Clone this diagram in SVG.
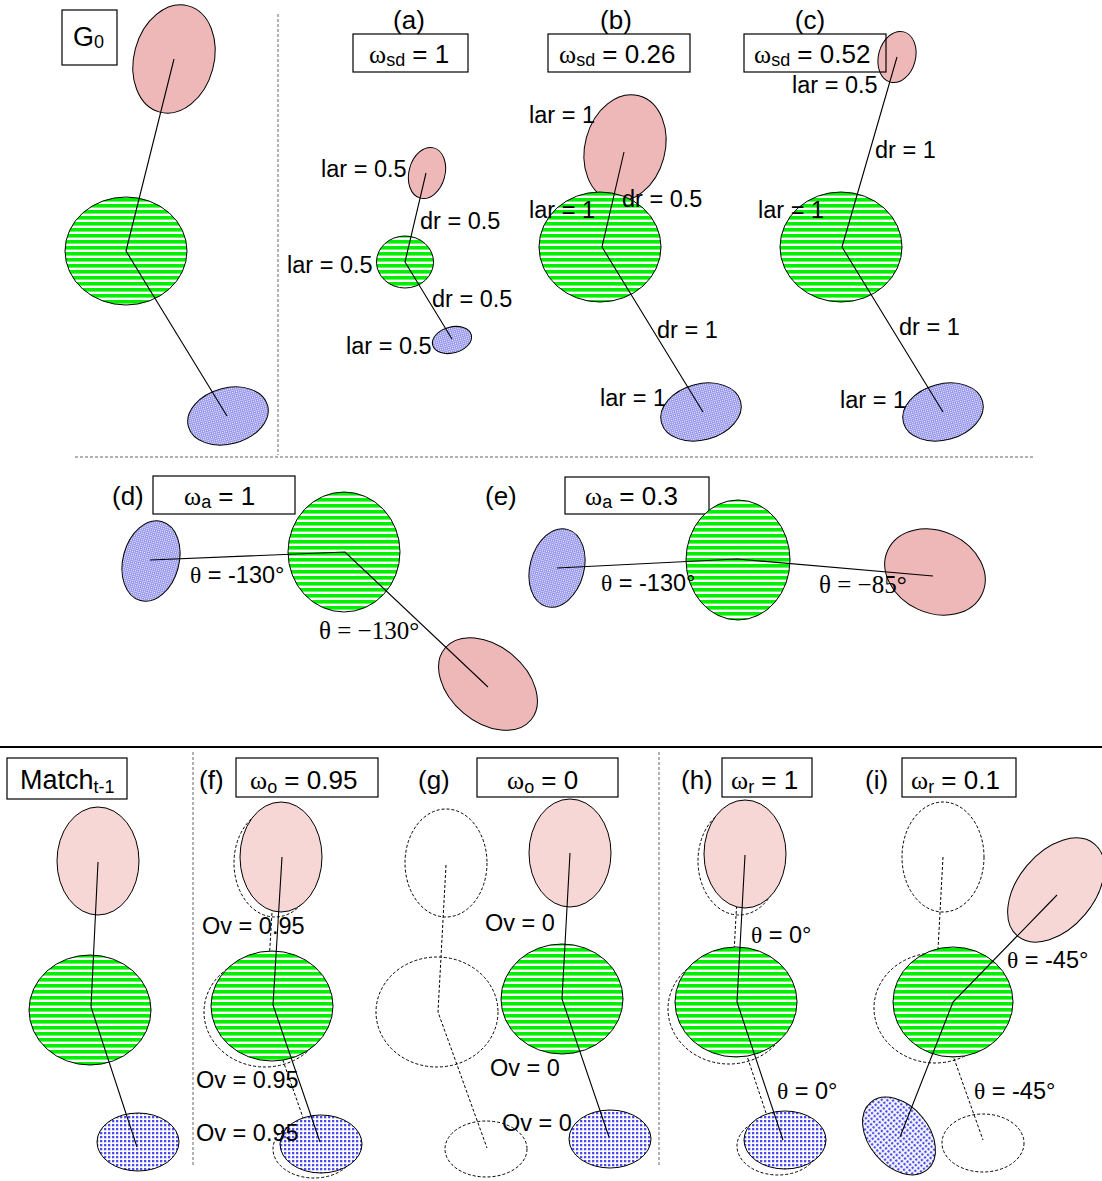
<svg xmlns="http://www.w3.org/2000/svg" width="1102" height="1181" viewBox="0 0 1102 1181">
<defs>
<pattern id="stripes" patternUnits="userSpaceOnUse" width="8" height="6">
<rect width="8" height="6" fill="#ffffff"/>
<rect y="0" width="8" height="3.6" fill="#00f000"/>
</pattern>
<pattern id="dots" patternUnits="userSpaceOnUse" width="2" height="2">
<rect width="2" height="2" fill="#9494ee"/>
<rect width="1" height="1" fill="#ffffff"/>
</pattern>
<pattern id="checks" patternUnits="userSpaceOnUse" width="4" height="4">
<rect width="4" height="4" fill="#4c4cf0"/>
<rect x="2.3" width="1.7" height="4" fill="#ffffff"/>
<rect y="2.3" width="4" height="1.7" fill="#ffffff"/>
</pattern>
</defs>
<style>
text{font-family:"Liberation Sans",Arial,sans-serif;font-size:23.5px;fill:#000}
.ser{font-family:"Liberation Serif","Times New Roman",serif}
.box{fill:none;stroke:#000;stroke-width:1.2}
.pk{fill:#efb8b8;stroke:#000;stroke-width:1}
.pkl{fill:#f7d6d6;stroke:#000;stroke-width:1}
.gr{fill:url(#stripes);stroke:#000;stroke-width:1}
.bl{fill:url(#dots);stroke:#000;stroke-width:1}
.blc{fill:url(#checks);stroke:#000;stroke-width:1}
.dsh{fill:none;stroke:#000;stroke-width:1;stroke-dasharray:3,2}
.ln{fill:none;stroke:#000;stroke-width:1.1}
.dln{fill:none;stroke:#000;stroke-width:1;stroke-dasharray:3,2}
.div{stroke:#666;stroke-width:1;stroke-dasharray:3,2}
.hd{font-size:26px}
.bx{font-size:27px}
.sub{font-size:18px}
.tms{font-size:25px}
</style>

<!-- dividers -->
<g id="dividers">
<line class="div" x1="278" y1="14" x2="278" y2="455"/>
<line class="div" x1="75" y1="457" x2="1035" y2="457"/>
<line x1="0" y1="747" x2="1102" y2="747" stroke="#000" stroke-width="2"/>
<line class="div" x1="193" y1="752" x2="193" y2="1165"/>
<line class="div" x1="659" y1="752" x2="659" y2="1165"/>
</g>

<!-- G0 -->
<g id="g0">
<rect class="box" x="62" y="10" width="55" height="55"/>
<text class="bx" x="73" y="46">G<tspan class="sub" dy="2">0</tspan></text>
<ellipse id="g0-pink" class="pk" cx="174" cy="59" rx="40" ry="55" transform="rotate(15 174 59)"/>
<ellipse id="g0-green" class="gr" cx="126" cy="251" rx="61" ry="54"/>
<ellipse id="g0-blue" class="bl" cx="228" cy="416" rx="41" ry="28" transform="rotate(-15 228 416)"/>
</g>

<!-- (a) -->
<g id="panel-a">
<text class="hd" x="409" y="29" text-anchor="middle">(a)</text>
<rect class="box" x="353" y="34" width="115" height="38"/>
<text x="369" y="63"><tspan class="ser hd">ω</tspan><tspan class="sub" dy="3">sd</tspan><tspan class="hd" dy="-3"> = 1</tspan></text>
<ellipse id="a-pink" class="pk" cx="427" cy="173" rx="18" ry="26" transform="rotate(15 427 173)"/>
<ellipse id="a-green" class="gr" cx="405" cy="262" rx="28.5" ry="26"/>
<ellipse id="a-blue" class="bl" cx="452" cy="340" rx="20" ry="13" transform="rotate(-15 452 340)"/>
</g>

<!-- (b) -->
<g id="panel-b">
<text class="hd" x="616" y="29" text-anchor="middle">(b)</text>
<rect class="box" x="548" y="34" width="142" height="38"/>
<text x="559" y="63"><tspan class="ser hd">ω</tspan><tspan class="sub" dy="3">sd</tspan><tspan class="hd" dy="-3"> = 0.26</tspan></text>
<ellipse id="b-pink" class="pk" cx="625" cy="148" rx="40" ry="54" transform="rotate(15 625 148)"/>
<ellipse id="b-green" class="gr" cx="600" cy="247" rx="61" ry="55"/>
<ellipse id="b-blue" class="bl" cx="701" cy="412" rx="41" ry="28" transform="rotate(-15 701 412)"/>
</g>

<!-- (c) -->
<g id="panel-c">
<text class="hd" x="810" y="29" text-anchor="middle">(c)</text>
<ellipse id="c-pink" class="pk" cx="897" cy="57" rx="18.5" ry="26" transform="rotate(15 897 57)"/>
<rect class="box" x="744" y="34" width="142" height="38"/>
<text x="754" y="63"><tspan class="ser hd">ω</tspan><tspan class="sub" dy="3">sd</tspan><tspan class="hd" dy="-3"> = 0.52</tspan></text>
<ellipse id="c-green" class="gr" cx="841" cy="247" rx="61" ry="55"/>
<ellipse id="c-blue" class="bl" cx="943" cy="412" rx="41" ry="28" transform="rotate(-15 943 412)"/>
</g>

<!-- (d) -->
<g id="panel-d">
<text class="hd" x="112" y="505">(d)</text>
<rect class="box" x="153" y="476" width="142" height="38"/>
<text x="184" y="505"><tspan class="ser hd">ω</tspan><tspan class="sub" dy="3">a</tspan><tspan class="hd" dy="-3"> = 1</tspan></text>
<ellipse id="d-blue" class="bl" cx="151" cy="561" rx="28" ry="41" transform="rotate(15 151 561)"/>
<ellipse id="d-green" class="gr" cx="344" cy="552" rx="56" ry="60"/>
<ellipse id="d-pink" class="pk" cx="488" cy="684" rx="38" ry="56" transform="rotate(-50 488 684)"/>
</g>

<!-- (e) -->
<g id="panel-e">
<text class="hd" x="485" y="505">(e)</text>
<rect class="box" x="565" y="477" width="144" height="37"/>
<text x="585" y="505"><tspan class="ser hd">ω</tspan><tspan class="sub" dy="3">a</tspan><tspan class="hd" dy="-3"> = 0.3</tspan></text>
<ellipse id="e-blue" class="bl" cx="557" cy="568" rx="27" ry="40" transform="rotate(15 557 568)"/>
<ellipse id="e-green" class="gr" cx="738" cy="560" rx="52" ry="60"/>
<ellipse id="e-pink" class="pk" cx="935" cy="572" rx="52" ry="41" transform="rotate(25 935 572)"/>
</g>

<!-- previous-match (dashed) connectors, drawn beneath the current nodes -->
<g id="connectors-previous">
<polyline class="dln" points="275,863 266,1012 314,1149"/>
<polyline class="dln" points="446,865 438,1012 487,1148"/>
<polyline class="dln" points="739,861 731,1008 777,1146"/>
<polyline class="dln" points="943,857 935,1005 983,1140"/>
</g>

<!-- Match t-1 -->
<g id="match">
<rect class="box" x="7" y="758" width="120" height="41"/>
<text class="bx" x="20" y="789">Match<tspan class="sub" dy="4">t-1</tspan></text>
<ellipse id="m-pink" class="pkl" cx="98" cy="861" rx="41" ry="54"/>
<ellipse id="m-green" class="gr" cx="90" cy="1010" rx="61" ry="55"/>
<ellipse id="m-blue" class="blc" cx="138" cy="1142" rx="41" ry="29"/>
</g>

<!-- (f) -->
<g id="panel-f">
<text class="hd" x="199" y="789">(f)</text>
<rect class="box" x="236" y="758" width="142" height="39"/>
<text x="250" y="789"><tspan class="ser hd">ω</tspan><tspan class="sub" dy="4">o</tspan><tspan class="hd" dy="-4"> = 0.95</tspan></text>
<ellipse class="dsh" cx="275" cy="863" rx="41" ry="54"/>
<ellipse class="dsh" cx="265" cy="1012" rx="61" ry="55"/>
<ellipse class="dsh" cx="314" cy="1149" rx="41" ry="29"/>
<ellipse id="f-pink" class="pkl" cx="281" cy="857" rx="41" ry="55"/>
<ellipse id="f-green" class="gr" cx="272" cy="1006" rx="61" ry="55"/>
<ellipse id="f-blue" class="blc" cx="321" cy="1144" rx="41" ry="29"/>
</g>

<!-- (g) -->
<g id="panel-g">
<text class="hd" x="418" y="789">(g)</text>
<rect class="box" x="477" y="758" width="141" height="39"/>
<text x="507" y="789"><tspan class="ser hd">ω</tspan><tspan class="sub" dy="4">o</tspan><tspan class="hd" dy="-4"> = 0</tspan></text>
<ellipse class="dsh" cx="446" cy="863" rx="41" ry="54"/>
<ellipse class="dsh" cx="437" cy="1012" rx="61" ry="55"/>
<ellipse class="dsh" cx="486" cy="1149" rx="41" ry="28"/>
<ellipse id="g-pink" class="pkl" cx="570" cy="853" rx="41" ry="54"/>
<ellipse id="g-green" class="gr" cx="562" cy="999" rx="61" ry="55"/>
<ellipse id="g-blue" class="blc" cx="610" cy="1139" rx="41" ry="29"/>
</g>

<!-- (h) -->
<g id="panel-h">
<text class="hd" x="681" y="789">(h)</text>
<rect class="box" x="722" y="758" width="90" height="39"/>
<text x="731" y="789"><tspan class="ser hd">ω</tspan><tspan class="sub" dy="4">r</tspan><tspan class="hd" dy="-4"> = 1</tspan></text>
<ellipse class="dsh" cx="739" cy="861" rx="41" ry="54"/>
<ellipse class="dsh" cx="729" cy="1009" rx="61" ry="55"/>
<ellipse class="dsh" cx="778" cy="1146" rx="41" ry="29"/>
<ellipse id="h-pink" class="pkl" cx="745" cy="854" rx="41" ry="54"/>
<ellipse id="h-green" class="gr" cx="736" cy="1002" rx="61" ry="55"/>
<ellipse id="h-blue" class="blc" cx="785" cy="1140" rx="41" ry="29"/>
</g>

<!-- (i) -->
<g id="panel-i">
<text class="hd" x="865" y="789">(i)</text>
<rect class="box" x="902" y="758" width="114" height="39"/>
<text x="911" y="789"><tspan class="ser hd">ω</tspan><tspan class="sub" dy="4">r</tspan><tspan class="hd" dy="-4"> = 0.1</tspan></text>
<ellipse class="dsh" cx="943" cy="857" rx="41" ry="55"/>
<ellipse class="dsh" cx="935" cy="1008" rx="61" ry="55"/>
<ellipse class="dsh" cx="983" cy="1143" rx="41" ry="29"/>
<ellipse id="i-pink" class="pkl" cx="1056" cy="890" rx="38" ry="60" transform="rotate(40 1056 890)"/>
<ellipse id="i-green" class="gr" cx="953" cy="1002" rx="60" ry="55"/>
<ellipse id="i-blue" class="blc" cx="899" cy="1136" rx="30" ry="44" transform="rotate(-40 899 1136)"/>
</g>

<!-- connectors -->
<g id="connectors">
<polyline class="ln" points="174,59 126,251 227,416"/>
<polyline class="ln" points="426,173 405,262 452,339"/>
<polyline class="ln" points="624,152 602,247 703,412"/>
<polyline class="ln" points="897,57 842,247 943,412"/>
<polyline class="ln" points="150,560 345,552 488,687"/>
<polyline class="ln" points="557,568 737,559 933,576"/>
<polyline class="ln" points="98,862 91,1007 137,1147"/>
<polyline class="ln" points="282,857 273,1005 320,1142"/>
<polyline class="ln" points="570,853 562,999 609,1137"/>
<polyline class="ln" points="745,855 737,1002 783,1140"/>
<polyline class="ln" points="1057,895 953,1002 900,1137"/>
</g>

<!-- labels -->
<g id="labels">
<text x="321" y="177">lar = 0.5</text>
<text x="420" y="229">dr = 0.5</text>
<text x="287" y="273">lar = 0.5</text>
<text x="432" y="307">dr = 0.5</text>
<text x="346" y="354">lar = 0.5</text>

<text x="529" y="123">lar = 1</text>
<text x="529" y="218">lar = 1</text>
<text x="622" y="207">dr = 0.5</text>
<text x="657" y="338">dr = 1</text>
<text x="600" y="406">lar = 1</text>

<text x="792" y="93">lar = 0.5</text>
<text x="875" y="158">dr = 1</text>
<text x="758" y="218">lar = 1</text>
<text x="899" y="335">dr = 1</text>
<text x="840" y="408">lar = 1</text>

<text x="190" y="583"><tspan class="ser">θ</tspan> = -130°</text>
<text class="ser tms" x="319" y="639">θ = −130°</text>
<text x="601" y="591"><tspan class="ser">θ</tspan> = -130°</text>
<text class="ser tms" x="819" y="593">θ = −85°</text>

<text x="202" y="934">Ov = 0.95</text>
<text x="196" y="1088">Ov = 0.95</text>
<text x="196" y="1141">Ov = 0.95</text>

<text x="485" y="931">Ov = 0</text>
<text x="490" y="1076">Ov = 0</text>
<text x="502" y="1131">Ov = 0</text>

<text x="751" y="943"><tspan class="ser">θ</tspan> = 0°</text>
<text x="777" y="1099"><tspan class="ser">θ</tspan> = 0°</text>
<text x="1007" y="968"><tspan class="ser">θ</tspan> = -45°</text>
<text x="974" y="1099"><tspan class="ser">θ</tspan> = -45°</text>
</g>
</svg>
